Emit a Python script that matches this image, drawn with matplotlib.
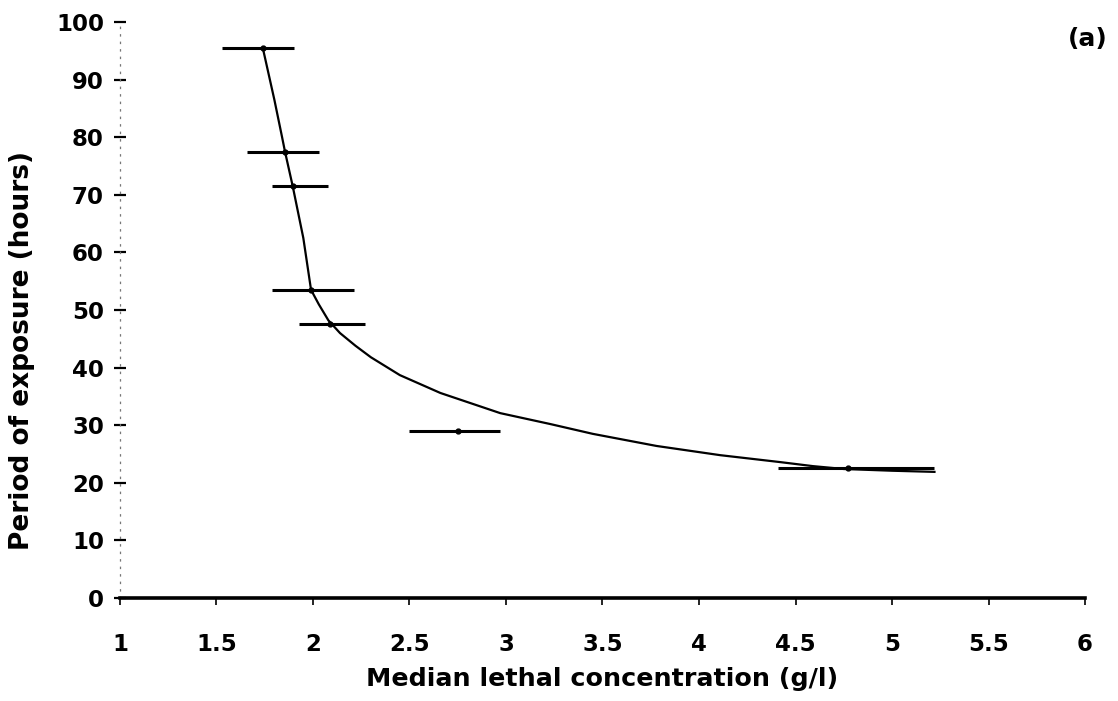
import matplotlib
matplotlib.use("Agg")
from matplotlib import pyplot as plt

# LC50 estimates with 95% confidence limits for each exposure period
lc50 = [1.74, 1.855, 1.895, 1.99, 2.09, 2.75, 4.77]
hours = [95.5, 77.5, 71.5, 53.5, 47.5, 29.0, 22.5]
ci_low = [1.53, 1.66, 1.79, 1.79, 1.93, 2.50, 4.41]
ci_high = [1.90, 2.03, 2.08, 2.21, 2.27, 2.97, 5.22]

# fitted toxicity curve
curve_x = [1.74, 1.80, 1.84, 1.855, 1.895, 1.95, 1.99, 2.03, 2.08, 2.14,
           2.22, 2.30, 2.45, 2.66, 2.97, 3.23, 3.45, 3.78, 4.11, 4.42,
           4.59, 4.75, 5.00, 5.22]
curve_y = [95.5, 86.5, 80.0, 77.5, 71.5, 62.5, 53.5, 51.0, 48.2, 46.0,
           43.8, 41.8, 38.7, 35.6, 32.1, 30.2, 28.5, 26.4, 24.8, 23.6,
           22.9, 22.4, 22.1, 21.9]

x_ticks = [1, 1.5, 2, 2.5, 3, 3.5, 4, 4.5, 5, 5.5, 6]
x_ticklabels = ["1", "1.5", "2", "2.5", "3", "3.5", "4", "4.5", "5", "5.5", "6"]
y_ticks = list(range(0, 101, 10))

plt.rcParams.update({
    "font.family": ["DejaVu Sans"],
    "font.weight": "bold",
    "axes.labelweight": "bold",
    "font.size": 16.5,
})

fig = plt.figure(figsize=(11.18, 7.01), dpi=100)
ax = fig.add_axes([0.1073, 0.1469, 0.8632, 0.8217])

ax.plot(curve_x, curve_y, color="black", linewidth=1.6)

xerr = [[c - lo for c, lo in zip(lc50, ci_low)],
        [hi - c for c, hi in zip(lc50, ci_high)]]
ax.errorbar(lc50, hours, xerr=xerr, fmt="o", color="black", markersize=3.5,
            elinewidth=2.2, capsize=0)

ax.set_xlim(1, 6)
ax.set_ylim(0, 100)
ax.set_xticks(x_ticks)
ax.set_xticklabels(x_ticklabels)
ax.set_yticks(y_ticks)

ax.spines["top"].set_visible(False)
ax.spines["right"].set_visible(False)
ax.spines["bottom"].set_linewidth(2.6)
ax.spines["left"].set_linewidth(0.9)
ax.spines["left"].set_color("#777777")
ax.spines["left"].set_linestyle((0, (1, 5)))

ax.tick_params(axis="x", direction="out", length=5, width=1.2, pad=20)
ax.tick_params(axis="y", direction="inout", length=9, width=1.6, pad=7)

ax.set_xlabel("Median lethal concentration (g/l)", fontsize=18.3, labelpad=8)
ax.set_ylabel("Period of exposure (hours)", fontsize=19)
ax.yaxis.set_label_coords(-0.088, 0.43)

fig.text(0.991, 0.961, "(a)", ha="right", va="top", fontsize=18)

fig.savefig("out.png", dpi=100, facecolor="white")
